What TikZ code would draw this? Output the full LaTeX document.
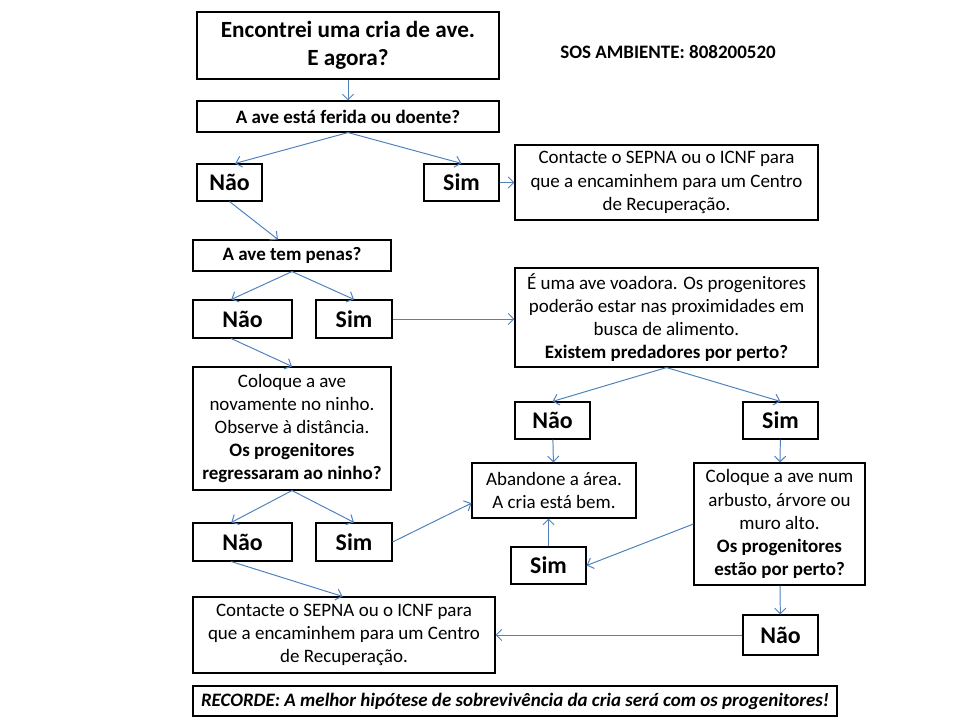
\documentclass[tikz,border=0pt]{standalone}
\usepackage{fontspec}
\setmainfont{Carlito}
\usetikzlibrary{arrows.meta, positioning, calc}
\definecolor{colArrow}{HTML}{4F81BD}
\tikzset{
  sz/.style 2 args={minimum width=#1*0.025cm, minimum height=#2*0.025cm},
  block/.style={
    draw=black, line width=0.8pt, align=center, inner sep=2pt,
    font=\fontsize{13.5}{16.4}\selectfont
  },
  question/.style={block, font=\fontsize{13.5}{16.4}\selectfont\bfseries},
  answer/.style={block, font=\fontsize{17}{20}\selectfont\bfseries},
  title/.style={block, font=\fontsize{16.5}{20}\selectfont\bfseries},
  flowarr/.style={
    -{Straight Barb[length=1.4mm,width=2.8mm]},
    line width=0.7pt, draw=colArrow
  }
}
\begin{document}
\begin{tikzpicture}[x=0.025cm, y=-0.025cm]
  \useasboundingbox (0,0) rectangle (960,720);
  % top of the chart
  \node[title, sz={302}{67}] (start) at (348,45.5) {Encontrei uma cria de ave.\\E agora?};
  \node[font=\fontsize{13.5}{16.4}\selectfont\bfseries] (sos) at (668,52) {SOS AMBIENTE: 808200520};
  \node[question, sz={302}{31}] (ferida) at (348,116.5) {A ave está ferida ou doente?};
  \node[answer, sz={65}{37}] (naoA) at (229.5,182.5) {Não};
  \node[answer, sz={75}{37}] (simA) at (461.5,182.5) {Sim};
  \node[block, sz={303}{75}] (contactA) at (666.5,182.5) {Contacte o SEPNA ou o ICNF para\\que a encaminhem para um Centro\\de Recuperação.};
  % feathers
  \node[question, sz={198}{31}] (penas) at (292,255.5) {A ave tem penas?};
  \node[answer, sz={99}{38}] (naoB) at (242.5,319) {Não};
  \node[answer, sz={76}{38}] (simB) at (354,319) {Sim};
  \node[block, sz={303}{99}] (voadora) at (666.5,317.5) {É uma ave voadora. Os progenitores\\poderão estar nas proximidades em\\busca de alimento.\\\textbf{Existem predadores por perto?}};
  \node[block, sz={198}{123}] (ninho) at (292,428.5) {Coloque a ave\\novamente no ninho.\\Observe à distância.\\\textbf{Os progenitores}\\\textbf{regressaram ao ninho?}};
  \node[answer, sz={99}{38}] (naoC) at (242.5,542) {Não};
  \node[answer, sz={76}{38}] (simC) at (354,542) {Sim};
  % predators
  \node[answer, sz={75}{37}] (naoD) at (552.5,420.5) {Não};
  \node[answer, sz={75}{37}] (simD) at (780.5,420.5) {Sim};
  \node[block, sz={164}{55}] (abandone) at (554,490.5) {Abandone a área.\\A cria está bem.};
  \node[block, sz={171}{122}] (arbusto) at (779.5,524) {Coloque a ave num\\arbusto, árvore ou\\muro alto.\\\textbf{Os progenitores}\\\textbf{estão por perto?}};
  \node[answer, sz={75}{37}] (simE) at (548.5,565.5) {Sim};
  \node[answer, sz={75}{40}] (naoE) at (780.5,635) {Não};
  \node[block, sz={302}{76}] (contactB) at (344,635) {Contacte o SEPNA ou o ICNF para\\que a encaminhem para um Centro\\de Recuperação.};
  \node[block, sz={644}{30}, font=\fontsize{13.5}{16.4}\selectfont\bfseries\itshape] (recorde) at (515,701) {RECORDE: A melhor hipótese de sobrevivência da cria será com os progenitores!};
  % connectors
  \draw[flowarr] (start) -- (ferida);
  \draw[flowarr] (ferida.south) -- ([xshift=4pt]naoA.north);
  \draw[flowarr] (ferida.south) -- (simA.north);
  \draw[flowarr] (simA) -- (contactA);
  \draw[flowarr] (naoA.south) -- ([xshift=-10pt]penas.north);
  \draw[flowarr] (penas.south) -- ([xshift=-8pt]naoB.north);
  \draw[flowarr] (penas.south) -- (simB.north);
  \draw[flowarr] (simB) -- (voadora.west |- simB);
  \draw[flowarr] ([xshift=-8pt]naoB.south) -- (ninho.north);
  \draw[flowarr] (ninho.south) -- ([xshift=-8pt]naoC.north);
  \draw[flowarr] (ninho.south) -- (simC.north);
  \draw[flowarr] ([xshift=-8pt]naoC.south) -- ([xshift=-1pt]contactB.north);
  \draw[flowarr] (simC.east) -- ([yshift=-9pt]abandone.west);
  \draw[flowarr] (voadora.south) -- (naoD.north);
  \draw[flowarr] (voadora.south) -- (simD.north);
  \draw[flowarr] (naoD) -- (abandone);
  \draw[flowarr] (simD) -- (arbusto);
  \draw[flowarr] (arbusto.west) -- (simE.east);
  \draw[flowarr] (simE.north) -- (simE.north |- abandone.south);
  \draw[flowarr] (arbusto) -- (naoE);
  \draw[flowarr] (naoE) -- (contactB);
\end{tikzpicture}
\end{document}
